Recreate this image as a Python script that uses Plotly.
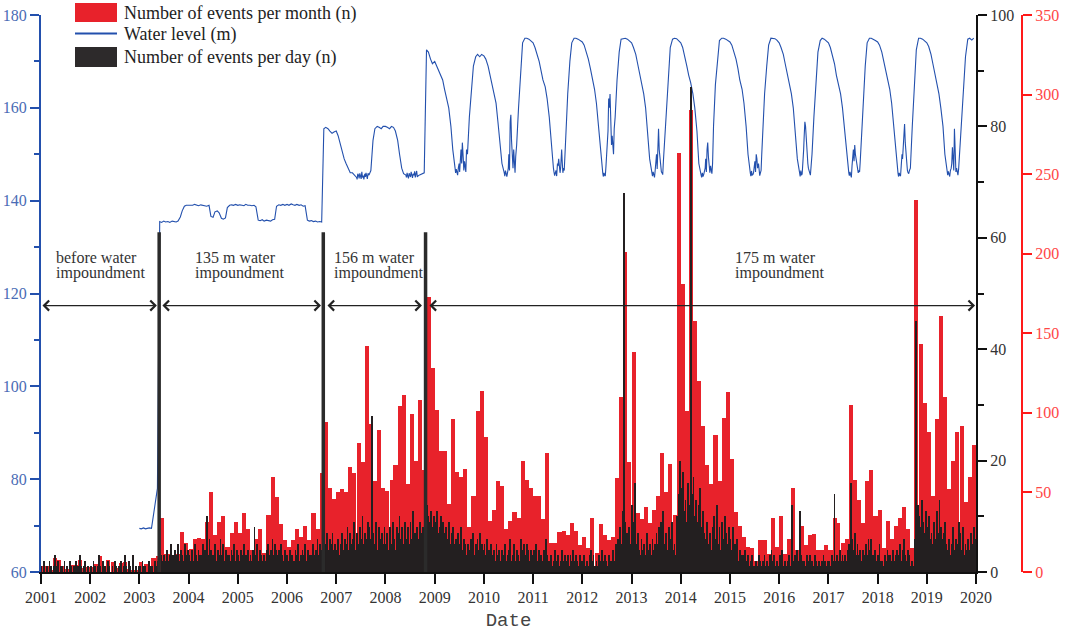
import pandas as pd
import plotly.graph_objects as go

# ---------------- data ----------------
years = list(range(2001, 2021))
year_labels = [str(y) for y in years]

# number of events per month (n), Jan..Dec for each year
ev_month_2001 = [3.5, 3.5, 1.5, 8.5, 7.5, 4, 2, 4.5, 4.5, 7.5, 2.5, 3]
ev_month_2002 = [3, 5, 10, 4, 7.5, 6, 2.5, 5.5, 6.5, 2, 1, 1]
ev_month_2003 = [6.5, 5, 2, 9, 10, 34, 11, 11, 8, 11, 25, 18]
ev_month_2004 = [14.5, 20.5, 21.5, 21, 31.5, 50.5, 23.5, 31.5, 35.5, 16, 24.5, 31.5]
ev_month_2005 = [24.5, 37, 27, 14, 21, 27, 12, 36, 60, 47, 30, 20]
ev_month_2006 = [16, 20, 27, 22, 29, 20, 37, 27, 62, 94, 53, 46]
ev_month_2007 = [50, 52, 50, 66, 62, 81, 69, 142, 93, 57, 89, 53]
ev_month_2008 = [51, 58, 67, 104, 111, 55, 99, 70, 108, 64, 173, 128]
ev_month_2009 = [102, 76, 76, 43, 96, 63, 60, 65, 28, 48, 101, 114]
ev_month_2010 = [85, 32, 39, 57, 54, 27, 32, 38, 34, 70, 58, 53]
ev_month_2011 = [48, 48, 33, 75, 18, 18, 25, 26, 23, 31, 26, 17]
ev_month_2012 = [22, 15, 34, 12, 30, 23, 20, 22, 59, 110, 201, 69]
ev_month_2013 = [138, 37, 33, 41, 31, 39, 48, 75, 50, 68, 36, 263]
ev_month_2014 = [181, 101, 290, 158, 120, 92, 67, 55, 86, 57, 97, 113]
ev_month_2015 = [71, 38, 29, 22, 16, 15, 7, 20, 20, 11, 34, 16]
ev_month_2016 = [35, 11, 21, 53, 14, 29, 17, 23, 24, 14, 14, 17]
ev_month_2017 = [14, 34, 31, 18, 21, 105, 58, 45, 31, 57, 64, 35]
ev_month_2018 = [39, 15, 32, 21, 29, 34, 41, 27, 15, 234, 143, 106]
ev_month_2019 = [88, 48, 96, 161, 110, 52, 70, 88, 92, 44, 60, 80]

# number of events per day (n), peak value read for each ten-day period (3 per month)
ev_day_2001 = [1,0,2, 0,1,0, 2,1,0, 1,3,1, 2,0,1, 1,0,2, 0,1,0, 2,1,0, 1,2,0, 1,3,1, 0,1,2, 0,1,0]
ev_day_2002 = [1,0,2, 1,0,1, 3,1,0, 2,1,1, 0,2,1, 0,1,0, 2,1,0, 1,2,0, 1,3,1, 0,2,1, 0,3,0, 1,0,1]
ev_day_2003 = [1,0,2, 1,1,0, 0,2,1, 1,0,2, 1,2,1, 0,3,2, 3,2,4, 2,3,5, 3,2,4, 3,5,2, 4,3,2, 5,3,4]
ev_day_2004 = [3,2,4, 2,5,3, 2,4,3, 3,5,2, 4,10,3, 6,4,3, 3,5,2, 4,3,6, 3,5,2, 4,3,3, 2,4,3, 5,2,4]
ev_day_2005 = [3,2,4, 3,5,2, 3,4,2, 3,2,4, 8,3,5, 2,4,3, 2,3,2, 4,5,3, 4,6,3, 5,4,3, 4,5,3, 2,4,3]
ev_day_2006 = [3,2,4, 3,2,2, 4,3,5, 2,3,4, 3,5,2, 4,3,3, 2,5,3, 4,6,3, 5,4,8, 6,5,7, 4,6,5, 7,4,5]
ev_day_2007 = [4,6,3, 5,7,4, 6,5,8, 4,7,5, 6,9,4, 7,5,8, 6,10,5, 7,6,9, 8,6,28, 7,5,9, 4,8,6, 7,5,8]
ev_day_2008 = [5,7,4, 8,5,9, 6,4,8, 7,10,6, 8,5,9, 6,8,5, 9,6,11, 7,5,8, 6,9,7, 8,6,14, 12,10,9, 11,8,10]
ev_day_2009 = [9,11,7, 8,10,6, 9,7,8, 6,9,5, 7,8,5, 6,4,7, 5,8,4, 6,5,3, 5,4,6, 4,7,3, 5,6,4, 7,5,4]
ev_day_2010 = [5,3,6, 4,2,5, 3,4,2, 5,3,4, 2,4,3, 5,2,3, 4,6,2, 3,5,2, 4,3,2, 6,4,5, 3,5,4, 2,4,3]
ev_day_2011 = [4,3,5, 2,4,3, 3,2,4, 6,3,2, 2,3,1, 2,4,2, 3,1,2, 4,2,3, 2,3,1, 3,2,4, 2,3,2, 1,3,2]
ev_day_2012 = [2,3,1, 2,1,3, 4,2,3, 1,2,1, 3,2,4, 2,3,2, 1,3,2, 2,4,2, 5,3,6, 8,5,11, 68,9,7, 6,8,5]
ev_day_2013 = [12,9,16, 5,7,4, 3,6,4, 5,3,7, 4,5,3, 6,4,5, 7,5,8, 9,6,11, 5,7,4, 8,6,9, 4,5,3, 10,14,20]
ev_day_2014 = [15,18,11, 13,9,16, 12,87,14, 17,10,13, 9,12,15, 8,11,7, 6,9,5, 7,4,8, 10,6,12, 5,8,4, 9,6,10, 7,5,8]
ev_day_2015 = [6,4,8, 5,3,6, 2,4,3, 3,2,4, 2,3,1, 2,3,1, 1,2,1, 3,2,1, 2,3,1, 2,1,3, 4,2,3, 1,2,1]
ev_day_2016 = [3,2,4, 1,2,1, 2,3,1, 12,2,3, 2,4,2, 11,3,2, 2,1,3, 2,3,2, 2,1,3, 2,1,2, 1,2,3, 2,1,2]
ev_day_2017 = [2,1,3, 2,14,2, 3,2,4, 2,3,2, 3,2,4, 5,16,6, 4,7,3, 5,3,4, 2,4,3, 5,3,6, 4,6,3, 2,4,2]
ev_day_2018 = [3,5,2, 2,1,3, 2,4,3, 3,2,4, 2,3,4, 3,5,2, 4,6,3, 2,4,3, 1,2,1, 6,45,12, 10,8,13, 9,7,11]
ev_day_2019 = [8,10,6, 7,5,9, 6,11,7, 13,8,6, 7,9,5, 4,6,3, 5,8,4, 6,5,9, 7,4,8, 3,5,4, 6,4,7, 5,8,6]

# water level (m), 1st and 15th of every month, 2003-2019
wl_2003 = [69.4,69.3, 69.5,69.3, 69.4,69.5, 69.4,72.0, 76.0,78.0, 135.5,135.3, 135.6,135.4, 135.5,135.3, 135.6,135.5, 135.4,135.6, 136.5,137.8, 138.8,139.0]
wl_2004 = [139.0,139.1, 139.0,139.2, 139.0,138.9, 139.1,139.0, 139.0,138.8, 139.0,136.6, 136.4,137.6, 137.8,137.4, 136.2,136.0, 136.3,138.5, 139.0,139.1, 139.0,139.2]
wl_2005 = [139.0,139.1, 139.0,138.9, 139.2,139.0, 139.0,138.9, 139.0,138.7, 135.8,135.7, 135.9,135.6, 135.8,135.7, 135.6,135.9, 136.0,138.8, 139.1,139.0, 139.2,139.0]
wl_2006 = [139.2,139.0, 139.3,139.1, 139.0,139.2, 139.0,139.1, 138.8,138.9, 135.8,135.6, 135.7,135.5, 135.6,135.4, 135.5,135.4, 155.5,155.8, 155.5,155.0, 154.5,154.8]
wl_2007 = [155.0,154.0, 152.0,150.0, 149.0,148.0, 147.0,146.0, 146.0,145.5, 145.0,145.5, 145.3,145.0, 145.8,145.2, 145.5,146.5, 153.0,155.5, 156.0,155.8, 155.5,156.0]
wl_2008 = [156.0,155.8, 155.5,156.0, 155.8,155.0, 153.0,150.0, 147.0,145.8, 145.5,145.3, 145.6,145.2, 145.5,145.8, 145.4,145.6, 145.8,146.0, 172.5,172.0, 170.5,169.5]
wl_2009 = [170.0,169.0, 168.0,167.0, 166.0,164.0, 162.0,160.0, 156.0,151.0, 147.0,146.0, 148.0,151.0, 149.0,147.5, 150.0,158.0, 165.0,169.0, 171.0,171.5, 171.0,171.5]
wl_2010 = [171.2,170.5, 169.0,167.0, 165.5,163.0, 161.0,157.0, 152.0,148.0, 146.0,145.5, 147.0,157.0, 150.0,146.5, 152.0,160.0, 168.0,174.0, 175.0,175.0, 174.8,174.5]
wl_2011 = [174.0,173.0, 171.5,170.0, 168.0,166.0, 164.5,162.0, 158.0,152.0, 147.0,146.0, 148.0,146.5, 151.0,147.0, 155.0,163.0, 170.0,174.0, 175.0,175.0, 174.8,174.5]
wl_2012 = [174.2,173.5, 172.0,170.5, 168.5,166.5, 164.0,161.0, 156.0,150.0, 146.0,145.5, 150.0,162.0, 155.0,152.0, 158.0,166.0, 172.0,174.8, 175.0,175.0, 174.8,174.5]
wl_2013 = [174.0,173.0, 171.5,169.5, 167.5,165.0, 163.0,160.0, 155.0,149.0, 146.0,145.5, 148.0,153.0, 149.0,146.0, 152.0,160.0, 168.0,173.0, 174.8,175.0, 174.9,174.5]
wl_2014 = [174.0,173.0, 171.0,169.0, 167.0,165.5, 163.0,160.0, 155.0,148.0, 145.5,145.2, 147.0,151.0, 148.0,146.5, 156.0,165.0, 170.0,174.5, 175.0,175.0, 174.8,174.6]
wl_2015 = [174.2,173.5, 172.0,170.5, 168.5,166.0, 164.0,161.0, 156.0,150.0, 146.0,145.5, 147.0,150.0, 148.0,146.0, 155.0,163.0, 169.0,173.5, 175.0,175.0, 174.9,174.6]
wl_2016 = [174.0,173.0, 171.5,169.5, 167.5,165.0, 163.0,160.0, 155.0,149.0, 146.0,145.5, 151.0,156.0, 148.0,146.0, 150.0,158.0, 166.0,172.0, 174.5,175.0, 174.8,174.5]
wl_2017 = [174.0,173.0, 171.0,169.5, 167.0,165.0, 163.0,160.0, 155.0,150.0, 146.0,145.5, 149.0,152.0, 148.0,146.5, 153.0,162.0, 169.0,174.0, 175.0,175.0, 174.8,174.5]
wl_2018 = [174.2,173.5, 172.0,170.0, 168.0,166.0, 164.0,161.0, 156.0,150.0, 146.0,145.5, 150.0,155.0, 149.0,146.0, 147.0,156.0, 166.0,172.5, 175.0,175.0, 174.8,174.5]
wl_2019 = [174.0,173.2, 171.5,169.5, 167.5,165.5, 163.0,160.0, 156.0,150.0, 146.0,145.5, 147.0,149.0, 146.5,146.0, 150.0,156.0, 164.0,171.0, 174.8,175.0, 174.6,175.0]

# extra water-level readings in the flood season (Jun-Aug, days 5, 10, 20, 25), 2007-2019
wlx_2007 = [144.6, 145.8, 144.8, 145.9, 144.7, 146.2, 145.4, 144.6, 145.1, 146.0, 144.7, 145.9]
wlx_2008 = [145.0, 146.0, 144.8, 145.9, 145.1, 146.2, 144.9, 145.8, 146.3, 145.0, 146.4, 145.1]
wlx_2009 = [146.0, 146.8, 145.5, 147.0, 146.2, 149.5, 148.0, 152.5, 146.5, 148.5, 146.2, 151.0]
wlx_2010 = [145.3, 146.5, 145.2, 146.0, 150.0, 146.5, 158.5, 153.0, 147.0, 151.0, 146.0, 149.5]
wlx_2011 = [146.2, 145.4, 146.5, 145.3, 147.5, 149.0, 146.0, 147.2, 148.5, 146.0, 146.5, 149.5]
wlx_2012 = [145.2, 146.0, 145.3, 147.5, 152.0, 155.0, 160.0, 163.0, 152.0, 154.0, 150.0, 155.5]
wlx_2013 = [145.3, 146.2, 145.0, 146.5, 150.0, 146.8, 155.5, 151.0, 147.0, 146.2, 145.6, 148.5]
wlx_2014 = [145.0, 146.0, 145.6, 146.5, 149.0, 146.2, 152.5, 149.5, 146.0, 147.5, 145.8, 148.0]
wlx_2015 = [145.3, 146.4, 145.6, 146.0, 148.5, 146.2, 149.0, 147.0, 146.5, 145.4, 146.5, 150.0]
wlx_2016 = [145.2, 146.5, 145.8, 147.5, 154.0, 157.0, 153.0, 150.0, 147.0, 146.0, 145.5, 147.0]
wlx_2017 = [145.4, 146.2, 145.0, 147.5, 151.0, 148.5, 150.0, 149.0, 147.0, 146.0, 146.2, 148.5]
wlx_2018 = [145.2, 146.0, 145.3, 147.5, 149.0, 152.0, 156.5, 152.5, 147.5, 146.5, 145.8, 146.5]
wlx_2019 = [145.5, 146.3, 145.2, 146.5, 148.0, 151.5, 146.5, 155.5, 146.2, 147.0, 145.5, 146.8]

# impoundment stages
impoundment_dates = ["2003-05-28", "2006-09-27", "2008-10-25"]
stage_starts = ["2001-01-01", "2003-06-10", "2006-10-17", "2008-11-12"]
stage_ends = ["2003-05-11", "2006-09-10", "2008-09-28", "2019-12-25"]
stage_label_1 = ["before water", "135 m water", "156 m water", "175 m water"]
stage_label_2 = ["impoundment", "impoundment", "impoundment", "impoundment"]
stage_label_x = ["2001-04-10", "2004-02-03", "2006-12-01", "2015-01-24"]

# ---------------- assemble ----------------
ev_month = []
for y in range(2001, 2020):
    ev_month += globals()[f"ev_month_{y}"]
ev_day = []
for y in range(2001, 2020):
    ev_day += globals()[f"ev_day_{y}"]
water = []
for y in range(2003, 2020):
    water += globals()[f"wl_{y}"]

month_start = pd.date_range("2001-01-01", periods=len(ev_month), freq="MS")
month_mid = month_start + pd.Timedelta(days=15)
dekad_dates = []
for ms in month_start:
    for off in (4, 14, 24):
        dekad_dates.append(ms + pd.Timedelta(days=off))

water_series = pd.Series(water, index=pd.date_range("2003-01-01", periods=len(water), freq="SMS"))
extra_idx, extra_val = [], []
for y in range(2007, 2020):
    vals = globals()[f"wlx_{y}"]
    k = 0
    for m in (6, 7, 8):
        for d in (5, 10, 20, 25):
            extra_idx.append(pd.Timestamp(year=y, month=m, day=d))
            extra_val.append(vals[k])
            k += 1
water_series = pd.concat([water_series, pd.Series(extra_val, index=extra_idx)]).sort_index()

DAY = 86400000
RED = "#e8222b"
BLUE = "#2350ad"
DARK = "#231f20"
SERIF = "Liberation Serif"

fig = go.Figure()
fig.add_trace(go.Scatter(x=water_series.index, y=water_series.values, mode="lines",
                         name="Water level (m)",
                         line=dict(color=BLUE, width=1.1), yaxis="y", showlegend=False))
fig.add_trace(go.Bar(x=month_mid, y=ev_month, name="Number of events per month (n)",
                     marker=dict(color=RED, line=dict(width=0)), width=30.4 * DAY,
                     yaxis="y2", showlegend=False))
fig.add_trace(go.Bar(x=dekad_dates, y=ev_day, name="Number of events per day (n)",
                     marker=dict(color=DARK, line=dict(width=0)), width=6 * DAY,
                     yaxis="y3", showlegend=False))

x_dom_end = 935 / 981

fig.update_layout(
    width=1065, height=632,
    margin=dict(l=41, r=43, t=15, b=60),
    paper_bgcolor="white", plot_bgcolor="white",
    barmode="overlay", bargap=0,
    font=dict(family=SERIF, size=16, color="#333"),
    xaxis=dict(
        domain=[0, x_dom_end], type="date",
        range=["2001-01-01", "2020-01-01"],
        tickmode="array", tickvals=[f"{y}-01-01" for y in years], ticktext=year_labels,
        ticks="outside", ticklen=10, tickwidth=2, tickcolor="#111",
        showline=True, linecolor="#111", linewidth=2, showgrid=False, zeroline=False,
        tickfont=dict(family=SERIF, size=16, color="#333"),
        title=dict(text="Date", font=dict(family="Liberation Mono", size=19, color="#444"), standoff=8),
        automargin=False,
    ),
    yaxis=dict(
        range=[60, 180], tickvals=list(range(60, 181, 20)),
        ticks="outside", ticklen=9, tickwidth=2, tickcolor=BLUE,
        showline=True, linecolor=BLUE, linewidth=2, showgrid=False, zeroline=False,
        tickfont=dict(family=SERIF, size=16, color="#4a6cb5"),
        minor=dict(tickvals=list(range(70, 180, 20)), ticks="outside", ticklen=5,
                   tickwidth=2, tickcolor=BLUE),
        automargin=False,
    ),
    yaxis2=dict(
        range=[0, 350], tickvals=list(range(0, 351, 50)), overlaying="y",
        side="right", anchor="free", position=1.0,
        ticks="outside", ticklen=9, tickwidth=2, tickcolor="#ff1a1a",
        showline=True, linecolor="#ff1a1a", linewidth=2, showgrid=False, zeroline=False,
        tickfont=dict(family=SERIF, size=16, color="#ff4646"),
        automargin=False,
    ),
    yaxis3=dict(
        range=[0, 100], tickvals=list(range(0, 101, 20)), overlaying="y",
        side="right", anchor="x",
        ticks="outside", ticklen=9, tickwidth=2, tickcolor="#111",
        showline=True, linecolor="#111", linewidth=2, showgrid=False, zeroline=False,
        tickfont=dict(family=SERIF, size=16, color="#333"),
        minor=dict(tickvals=list(range(10, 100, 20)), ticks="outside", ticklen=6,
                   tickwidth=2, tickcolor="#111"),
        automargin=False,
    ),
    showlegend=False,
)

shapes = []
# impoundment markers
for d in impoundment_dates:
    shapes.append(dict(type="line", xref="x", yref="y3", x0=d, x1=d, y0=0, y1=61,
                       line=dict(color="#2b2b2b", width=3.5)))

# manual legend (positions in paper fraction)
def px_x(px):
    return (px - 41) / 981

def px_y(py):
    return (572 - py) / 557

shapes.append(dict(type="rect", xref="paper", yref="paper", x0=px_x(75), x1=px_x(117),
                   y0=px_y(22), y1=px_y(3), fillcolor=RED, line=dict(width=0)))
shapes.append(dict(type="line", xref="paper", yref="paper", x0=px_x(75), x1=px_x(117),
                   y0=px_y(33.5), y1=px_y(33.5), line=dict(color=BLUE, width=2)))
shapes.append(dict(type="rect", xref="paper", yref="paper", x0=px_x(75), x1=px_x(117),
                   y0=px_y(67), y1=px_y(47), fillcolor="#2d2a2b", line=dict(width=0)))
fig.update_layout(shapes=shapes)

annotations = []
legend_names = [fig.data[1].name, fig.data[0].name, fig.data[2].name]
for name, py in zip(legend_names, [13, 34, 57]):
    annotations.append(dict(xref="paper", yref="paper", x=px_x(122), y=px_y(py),
                            text=name, showarrow=False, xanchor="left", yanchor="middle",
                            font=dict(family=SERIF, size=18, color="#222")))

arrow_level = 117.4
for s, e in zip(stage_starts, stage_ends):
    annotations.append(dict(xref="x", yref="y", axref="x", ayref="y",
                            x=e, y=arrow_level, ax=s, ay=arrow_level, text="",
                            showarrow=True, arrowhead=4, startarrowhead=4,
                            arrowside="end+start", arrowsize=1.5, arrowwidth=1.3,
                            arrowcolor="#222", standoff=0, startstandoff=0))

for lx, t1, t2 in zip(stage_label_x, stage_label_1, stage_label_2):
    annotations.append(dict(xref="x", yref="paper", x=lx, y=px_y(257), text=t1,
                            showarrow=False, xanchor="left", yanchor="middle",
                            font=dict(family=SERIF, size=16, color="#333")))
    annotations.append(dict(xref="x", yref="paper", x=lx, y=px_y(273), text=t2,
                            showarrow=False, xanchor="left", yanchor="middle",
                            font=dict(family=SERIF, size=16, color="#333")))

fig.update_layout(annotations=annotations)

fig.write_html("out.html", config={"displayModeBar": False},
               post_script="document.body.style.margin='0';document.body.style.overflow='hidden';")
